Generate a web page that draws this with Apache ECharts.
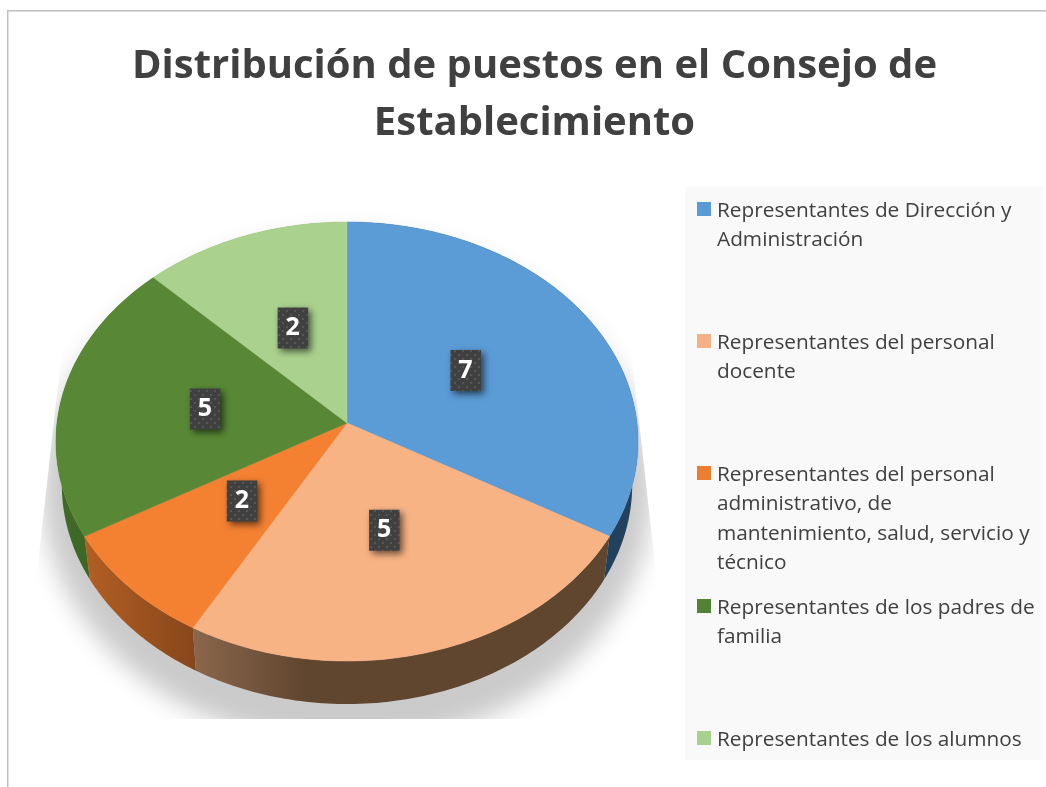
<!DOCTYPE html>
<html>
<head>
<meta charset="utf-8">
<style>
  html, body { margin: 0; padding: 0; background: #fff; }
  #chart { width: 1046px; height: 787px; }
</style>
<script src="https://cdn.jsdelivr.net/npm/echarts@6/dist/echarts.min.js"></script>
</head>
<body>
<div id="chart"></div>
<script>
var chartTitle = 'Distribución de puestos en el Consejo de\nEstablecimiento'
var categories = [
  'Representantes de Dirección y\nAdministración',
  'Representantes del personal\ndocente',
  'Representantes del personal\nadministrativo, de\nmantenimiento, salud, servicio y\ntécnico',
  'Representantes de los padres de\nfamilia',
  'Representantes de los alumnos'
]
// numbers printed on the slices
var printedValues = [7, 5, 2, 5, 2]
// size of each slice as measured on the picture, in percent of the pie
var sliceShares = [33.3, 24.9, 8.5, 20.8, 12.5]

var topColors = ['#5b9bd6', '#f8b384', '#f48132', '#588835', '#aad18e']
var legendColors = ['#5b9bd5', '#f4b183', '#ed7d31', '#548235', '#a9d18e']
var sideColors = [
  ['#22415f', '#22415f'],
  ['#8b674c', '#60452f'],
  ['#b25f24', '#87461a'],
  ['#3f6a27', '#3a6122'],
  ['#7f9d6a', '#7f9d6a']
]
var legendTops = [209, 341, 473, 606, 738]

// tilted pie: unit circle seen in perspective
var apexX = 347
var apexY = 423
var scaleX = 290
var scaleY = -182.3
var tilt = 0.0843
var depth = 43
var lowerShrink = 0.98

function project(angle, r) {
  var u = Math.sin(angle) * r
  var v = Math.cos(angle) * r
  var den = 1 + tilt * v
  return [apexX + scaleX * u / den, (apexY + scaleY * v) / den]
}

function lower(p) {
  return [apexX + (p[0] - apexX) * lowerShrink, p[1] + depth]
}

function sliceRange(index) {
  var total = sliceShares.reduce(function(a, b) { return a + b }, 0)
  var before = 0
  for (var i = 0; i < index; i++) before += sliceShares[i]
  return [before / total * Math.PI * 2, (before + sliceShares[index]) / total * Math.PI * 2]
}

function arcPoints(range) {
  var steps = Math.max(6, Math.ceil((range[1] - range[0]) / Math.PI * 180))
  var pts = []
  for (var i = 0; i <= steps; i++) {
    pts.push(project(range[0] + (range[1] - range[0]) * i / steps, 1))
  }
  return pts
}

function renderSide(params) {
  var i = params.dataIndex
  var top = arcPoints(sliceRange(i))
  var bottom = top.map(lower).reverse()
  var stops = [
    { offset: 0, color: sideColors[i][0] },
    { offset: i === 1 ? 0.27 : 1, color: sideColors[i][1] },
    { offset: 1, color: sideColors[i][1] }
  ]
  return {
    type: 'polygon',
    shape: { points: top.concat(bottom) },
    style: { fill: new echarts.graphic.LinearGradient(0, 0, 1, 0, stops) }
  }
}

function renderTop(params) {
  var i = params.dataIndex
  var pts = [[apexX, apexY]].concat(arcPoints(sliceRange(i)))
  return {
    type: 'polygon',
    shape: { points: pts },
    style: { fill: topColors[i], stroke: topColors[i], lineWidth: 0.5 }
  }
}

function dotPattern() {
  var c = document.createElement('canvas')
  c.width = 8
  c.height = 8
  var ctx = c.getContext('2d')
  ctx.fillStyle = '#404040'
  ctx.fillRect(0, 0, 8, 8)
  ctx.fillStyle = '#555555'
  ctx.fillRect(2, 2, 2, 2)
  ctx.fillRect(6, 6, 2, 2)
  return c
}
var boxPattern = { image: dotPattern(), repeat: 'repeat' }

function renderBox(params, api) {
  var range = sliceRange(params.dataIndex)
  var p = project((range[0] + range[1]) / 2, 0.49)
  var cx = p[0] - 2
  return {
    type: 'group',
    children: [{
      type: 'rect',
      shape: { x: cx - 15, y: p[1] - 20.5, width: 30.5, height: 41 },
      style: {
        fill: boxPattern,
        shadowBlur: 7,
        shadowColor: 'rgba(0,0,0,0.6)',
        shadowOffsetX: 3,
        shadowOffsetY: 3
      }
    }, {
      type: 'text',
      x: cx,
      y: p[1],
      style: {
        text: String(api.value(0)),
        fill: '#ffffff',
        font: 'bold 25px "Open Sans"',
        align: 'center',
        verticalAlign: 'middle'
      }
    }]
  }
}

// the ellipse sits off the page, only its blurred shadow lands on it
var shadowShift = 3000
var graphics = [
  // floor shadow, then white masks that cut its straight edges
  {
    type: 'ellipse',
    z: 0,
    shape: { cx: 347 - shadowShift, cy: 490, rx: 305, ry: 255 },
    style: { fill: '#000', shadowBlur: 24, shadowColor: '#cbcbcb', shadowOffsetX: shadowShift }
  },
  { type: 'polygon', z: 1, shape: { points: [[10, 340], [63, 340], [37, 573], [30, 640], [10, 640]] }, style: { fill: '#ffffff' } },
  { type: 'polygon', z: 1, shape: { points: [[630, 340], [656, 573], [663, 640], [684, 640], [684, 340]] }, style: { fill: '#ffffff' } },
  { type: 'rect', z: 1, shape: { x: 10, y: 719, width: 1036, height: 68 }, style: { fill: '#ffffff' } },
  // chart frame
  { type: 'rect', z: 1, shape: { x: 7, y: 10, width: 1039, height: 1.5 }, style: { fill: '#bfbfbf' } },
  { type: 'rect', z: 1, shape: { x: 7, y: 10, width: 1.5, height: 777 }, style: { fill: '#bfbfbf' } },
  // legend
  { type: 'rect', z: 1, shape: { x: 685, y: 187, width: 359, height: 573 }, style: { fill: '#f9f9f9' } }
]

categories.forEach(function(name, i) {
  graphics.push({
    type: 'rect',
    z: 2,
    shape: { x: 697, y: legendTops[i] - 7, width: 14, height: 14 },
    style: { fill: legendColors[i] }
  })
  graphics.push({
    type: 'text',
    z: 2,
    x: 717,
    y: legendTops[i] - 13,
    style: {
      text: name,
      fill: '#404040',
      font: '20.8px "Open Sans"',
      lineHeight: 29.5
    }
  })
})

var chart = echarts.init(document.getElementById('chart'), null, { renderer: 'canvas' })
chart.setOption({
  animation: false,
  backgroundColor: '#ffffff',
  title: {
    text: chartTitle,
    left: 529.5,
    top: 33,
    textAlign: 'center',
    textStyle: {
      color: '#404040',
      fontFamily: 'Open Sans',
      fontWeight: 'bold',
      fontSize: 40,
      lineHeight: 57
    }
  },
  graphic: { elements: graphics },
  series: [
    { type: 'custom', coordinateSystem: 'none', z: 3, renderItem: renderSide, data: sliceShares, silent: true },
    { type: 'custom', coordinateSystem: 'none', z: 4, renderItem: renderTop, data: sliceShares, silent: true },
    { type: 'custom', coordinateSystem: 'none', z: 5, renderItem: renderBox, data: printedValues, silent: true }
  ]
})
</script>
</body>
</html>
